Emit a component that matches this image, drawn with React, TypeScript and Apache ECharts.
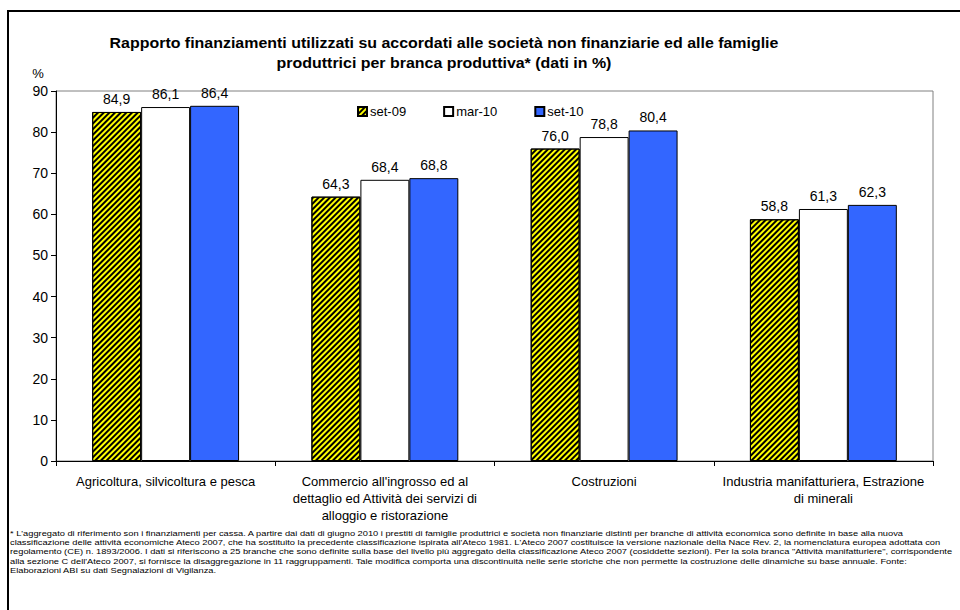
import React, { useEffect, useRef } from "react";
import * as echarts from "echarts";

const categories = [
  "Agricoltura, silvicoltura e pesca",
  "Commercio all'ingrosso ed al\ndettaglio ed Attività dei servizi di\nalloggio e ristorazione",
  "Costruzioni",
  "Industria manifatturiera, Estrazione\ndi minerali",
];
const seriesNames = ["set-09", "mar-10", "set-10"];
const set09 = [84.9, 64.3, 76.0, 58.8];
const mar10 = [86.1, 68.4, 78.8, 61.3];
const set10 = [86.4, 68.8, 80.4, 62.3];
const yTicks = { min: 0, max: 90, interval: 10 };

const titleLines = [
  "Rapporto finanziamenti utilizzati su accordati alle società non finanziarie ed alle famiglie",
  "produttrici per branca produttiva* (dati in %)",
];
const footnoteLines = [
  "* L'aggregato di riferimento son i finanziamenti per cassa. A partire dai dati di giugno 2010 i prestiti di famiglie produttrici e società non finanziarie distinti per branche di attività economica sono definite in base alla nuova",
  "classificazione delle attività economiche Ateco 2007, che ha sostituito la precedente classificazione ispirata all'Ateco 1981. L'Ateco 2007 costituisce la versione nazionale della Nace Rev. 2, la nomenclatura europea adottata con",
  "regolamento (CE) n. 1893/2006. I dati si riferiscono a 25 branche che sono definite sulla base del livello più aggregato della classificazione Ateco 2007 (cosiddette sezioni). Per la sola branca \"Attività manifatturiere\", corrispondente",
  "alla sezione C dell'Ateco 2007, si fornisce la disaggregazione in 11 raggruppamenti. Tale modifica comporta una discontinuità nelle serie storiche che non permette la costruzione delle dinamiche su base annuale. Fonte:",
  "Elaborazioni ABI su dati Segnalazioni di Vigilanza.",
];

const FONT = "'Liberation Sans', Arial, sans-serif";

export default function App() {
  const ref = useRef<HTMLDivElement>(null);
  useEffect(() => {
    document.body.style.margin = "0";
    const chart = echarts.init(ref.current!, undefined, { renderer: "svg" });
    const label = {
      show: true,
      position: "top",
      distance: 6,
      color: "#000",
      fontSize: 14,
      fontFamily: FONT,
      formatter: (p: any) => Number(p.value).toFixed(1).replace(".", ","),
    };
    const graphics: any[] = [
      {
        type: "rect",
        shape: { x: 8, y: 11, width: 970, height: 640 },
        style: { fill: "none", stroke: "#000", lineWidth: 2 },
        silent: true,
      },
      ...titleLines.map((t, i) => ({
        type: "text",
        x: 444,
        y: 43 + i * 20,
        scaleX: 1.1,
        style: {
          text: t,
          fontSize: 14.5,
          fontWeight: "bold",
          fontFamily: FONT,
          fill: "#000",
          align: "center",
          verticalAlign: "middle",
        },
      })),
      {
        type: "text",
        x: 38,
        y: 73,
        style: { text: "%", fontSize: 13, fontFamily: FONT, fill: "#000", align: "center", verticalAlign: "middle" },
      },
      ...footnoteLines.map((t, i) => ({
        type: "text",
        x: 10,
        y: 533 + i * 9.3,
        scaleX: 1.16,
        style: { text: t, fontSize: 8, fontFamily: FONT, fill: "#000", align: "left", verticalAlign: "middle" },
      })),
    ];
    chart.setOption({
      animation: false,
      backgroundColor: "#fff",
      textStyle: { fontFamily: FONT },
      grid: {
        left: 56,
        top: 91,
        right: 27,
        bottom: 149,
        show: true,
        borderColor: "#808080",
        borderWidth: 1,
        backgroundColor: "transparent",
      },
      legend: {
        left: 352,
        top: 100,
        itemWidth: 9,
        itemHeight: 9,
        itemGap: 37,
        icon: "rect",
        data: seriesNames,
        textStyle: { fontSize: 13, color: "#000", fontFamily: FONT, padding: [0, 0, 0, -2] },
      },
      xAxis: {
        type: "category",
        data: categories,
        axisLine: { lineStyle: { color: "#000", width: 1 } },
        axisTick: { show: true, length: 5, lineStyle: { color: "#000" } },
        axisLabel: { color: "#000", fontSize: 13, fontFamily: FONT, margin: 12, lineHeight: 17, interval: 0 },
      },
      yAxis: {
        type: "value",
        min: yTicks.min,
        max: yTicks.max,
        interval: yTicks.interval,
        splitLine: { show: false },
        axisLine: { show: true, lineStyle: { color: "#000", width: 1 } },
        axisTick: { show: true, length: 5, lineStyle: { color: "#000" } },
        axisLabel: { color: "#000", fontSize: 14, fontFamily: FONT, margin: 8 },
      },
      series: [
        {
          name: seriesNames[0],
          type: "bar",
          data: set09,
          barGap: "0%",
          barCategoryGap: "33%",
          itemStyle: {
            color: "#ffff00",
            borderColor: "#000",
            borderWidth: 1,
            decal: {
              symbol: "rect",
              symbolSize: 1,
              color: "#000",
              dashArrayX: [1, 0],
              dashArrayY: [2, 2],
              rotation: -Math.PI / 4,
            },
          },
          label,
        },
        {
          name: seriesNames[1],
          type: "bar",
          data: mar10,
          itemStyle: { color: "#ffffff", borderColor: "#000", borderWidth: 1 },
          label,
        },
        {
          name: seriesNames[2],
          type: "bar",
          data: set10,
          itemStyle: { color: "#3366ff", borderColor: "#000", borderWidth: 1 },
          label,
        },
      ],
      graphic: graphics,
    });
    return () => chart.dispose();
  }, []);
  return <div ref={ref} style={{ width: 960, height: 610 }} />;
}
